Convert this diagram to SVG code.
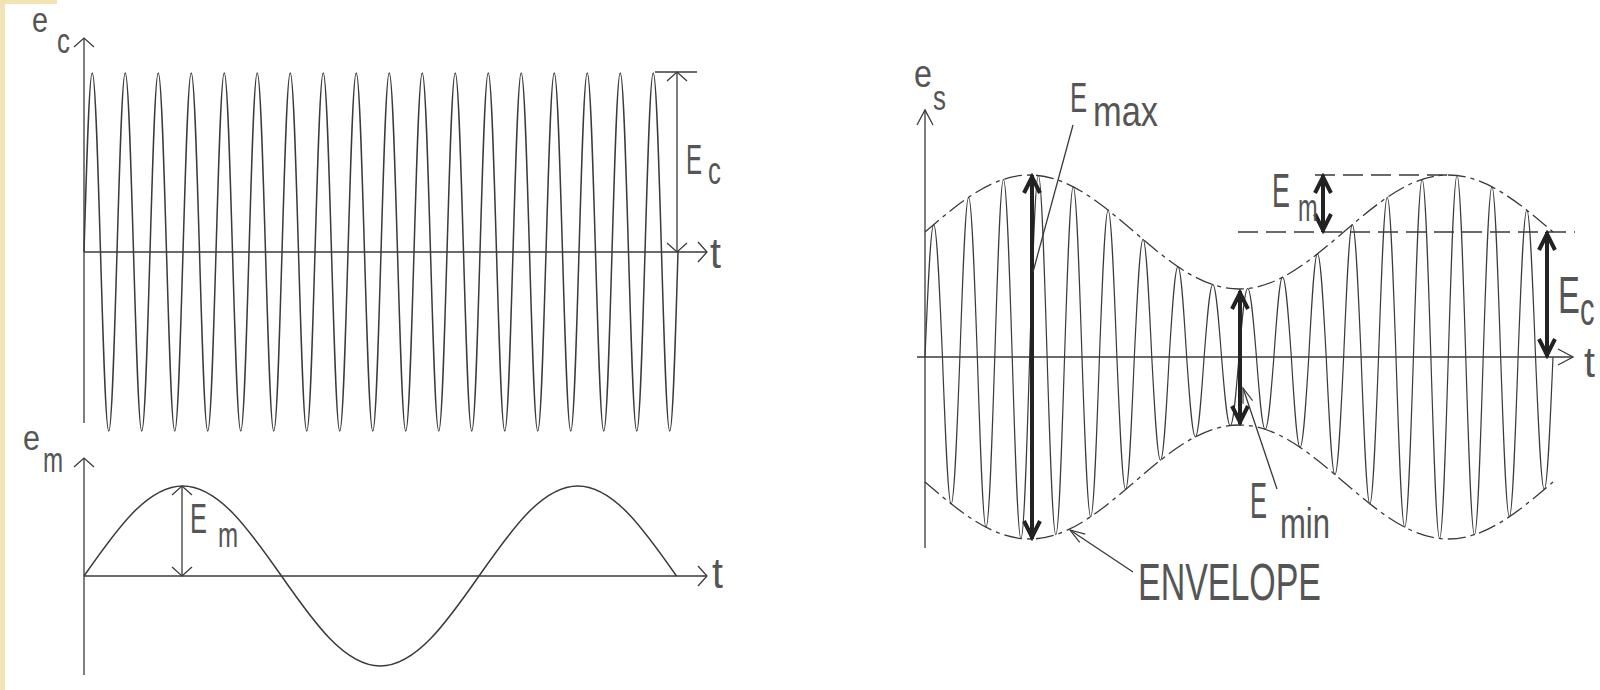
<svg xmlns="http://www.w3.org/2000/svg" width="1600" height="690" viewBox="0 0 1600 690">
<style>
.thin{fill:none;stroke:#3a3a3a;stroke-width:1.3}
.wave{fill:none;stroke:#3a3a3a;stroke-width:1.5;stroke-linejoin:round}
.wave2{fill:none;stroke:#3a3a3a;stroke-width:1.2;stroke-linejoin:round}
.env{fill:none;stroke:#3a3a3a;stroke-width:1.3;stroke-dasharray:18 5 4 5}
.dsh{fill:none;stroke:#3a3a3a;stroke-width:1.3;stroke-dasharray:20 8}
.thick{fill:none;stroke:#222;stroke-width:4}
.lbl{font-family:"Liberation Sans",Arial,sans-serif;fill:#555555}
</style>
<defs>
<marker id="opn" viewBox="-14 -14 16 28" markerWidth="16" markerHeight="28" refX="0" refY="0" orient="auto-start-reverse" markerUnits="userSpaceOnUse"><path d="M-9,-10 L0,0 L-9,10" fill="none" stroke="#3a3a3a" stroke-width="1.3"/></marker>
<marker id="opnL" viewBox="-18 -12 20 24" markerWidth="20" markerHeight="24" refX="0" refY="0" orient="auto-start-reverse" markerUnits="userSpaceOnUse"><path d="M-15,-8 L0,0 L-15,8" fill="none" stroke="#3a3a3a" stroke-width="1.3"/></marker>
<marker id="ldr" viewBox="-18 -8 20 16" markerWidth="20" markerHeight="16" refX="0" refY="0" orient="auto" markerUnits="userSpaceOnUse"><path d="M-15,-5 L0,0 L-15,5" fill="none" stroke="#3a3a3a" stroke-width="1.2"/></marker>
<marker id="thk" viewBox="-22 -12 24 24" markerWidth="24" markerHeight="24" refX="0" refY="0" orient="auto-start-reverse" markerUnits="userSpaceOnUse"><path d="M-18,-8 L-2,0 L-18,8" fill="none" stroke="#222" stroke-width="4"/></marker>
</defs>
<rect x="0" y="0" width="1600" height="690" fill="#ffffff"/>
<rect x="0" y="0" width="5" height="690" fill="#f1e2b8"/>
<rect x="0" y="0" width="57" height="4" fill="#f1e2b8"/>

<g id="carrier-plot">
<line class="thin" x1="84" y1="423" x2="84" y2="38" marker-end="url(#opn)"/>
<line class="thin" x1="84" y1="252" x2="707" y2="252" marker-end="url(#opn)"/>
<path class="wave" d="M84,252
c2.69,-91.7 5.264,-179 8.25,-179 c2.986,0 5.56,87.3 8.25,179 c2.69,91.7 5.264,179 8.25,179 c2.986,0 5.56,-87.3 8.25,-179 c2.69,-91.7 5.264,-179 8.25,-179 c2.986,0 5.56,87.3 8.25,179 c2.69,91.7 5.264,179 8.25,179 c2.986,0 5.56,-87.3 8.25,-179 c2.69,-91.7 5.264,-179 8.25,-179 c2.986,0 5.56,87.3 8.25,179 c2.69,91.7 5.264,179 8.25,179 c2.986,0 5.56,-87.3 8.25,-179
c2.69,-91.7 5.264,-179 8.25,-179 c2.986,0 5.56,87.3 8.25,179 c2.69,91.7 5.264,179 8.25,179 c2.986,0 5.56,-87.3 8.25,-179 c2.69,-91.7 5.264,-179 8.25,-179 c2.986,0 5.56,87.3 8.25,179 c2.69,91.7 5.264,179 8.25,179 c2.986,0 5.56,-87.3 8.25,-179 c2.69,-91.7 5.264,-179 8.25,-179 c2.986,0 5.56,87.3 8.25,179 c2.69,91.7 5.264,179 8.25,179 c2.986,0 5.56,-87.3 8.25,-179
c2.69,-91.7 5.264,-179 8.25,-179 c2.986,0 5.56,87.3 8.25,179 c2.69,91.7 5.264,179 8.25,179 c2.986,0 5.56,-87.3 8.25,-179 c2.69,-91.7 5.264,-179 8.25,-179 c2.986,0 5.56,87.3 8.25,179 c2.69,91.7 5.264,179 8.25,179 c2.986,0 5.56,-87.3 8.25,-179 c2.69,-91.7 5.264,-179 8.25,-179 c2.986,0 5.56,87.3 8.25,179 c2.69,91.7 5.264,179 8.25,179 c2.986,0 5.56,-87.3 8.25,-179
c2.69,-91.7 5.264,-179 8.25,-179 c2.986,0 5.56,87.3 8.25,179 c2.69,91.7 5.264,179 8.25,179 c2.986,0 5.56,-87.3 8.25,-179 c2.69,-91.7 5.264,-179 8.25,-179 c2.986,0 5.56,87.3 8.25,179 c2.69,91.7 5.264,179 8.25,179 c2.986,0 5.56,-87.3 8.25,-179 c2.69,-91.7 5.264,-179 8.25,-179 c2.986,0 5.56,87.3 8.25,179 c2.69,91.7 5.264,179 8.25,179 c2.986,0 5.56,-87.3 8.25,-179
c2.69,-91.7 5.264,-179 8.25,-179 c2.986,0 5.56,87.3 8.25,179 c2.69,91.7 5.264,179 8.25,179 c2.986,0 5.56,-87.3 8.25,-179 c2.69,-91.7 5.264,-179 8.25,-179 c2.986,0 5.56,87.3 8.25,179 c2.69,91.7 5.264,179 8.25,179 c2.986,0 5.56,-87.3 8.25,-179 c2.69,-91.7 5.264,-179 8.25,-179 c2.986,0 5.56,87.3 8.25,179 c2.69,91.7 5.264,179 8.25,179 c2.986,0 5.56,-87.3 8.25,-179
c2.69,-91.7 5.264,-179 8.25,-179 c2.986,0 5.56,87.3 8.25,179 c2.69,91.7 5.264,179 8.25,179 c2.986,0 5.56,-87.3 8.25,-179 c2.69,-91.7 5.264,-179 8.25,-179 c2.986,0 5.56,87.3 8.25,179 c2.69,91.7 5.264,179 8.25,179 c2.986,0 5.56,-87.3 8.25,-179 c2.69,-91.7 5.264,-179 8.25,-179 c2.986,0 5.56,87.3 8.25,179 c2.69,91.7 5.264,179 8.25,179 c2.986,0 5.56,-87.3 8.25,-179"/>
<line class="thin" x1="655" y1="72" x2="697" y2="72"/>
<line class="thin" x1="677" y1="72" x2="677" y2="252" marker-start="url(#opn)" marker-end="url(#opn)"/>
<text class="lbl" transform="translate(32,32) scale(0.8,1)" font-size="36">e</text>
<text class="lbl" transform="translate(57,53) scale(0.74,1)" font-size="35">c</text>
<text class="lbl" transform="translate(686,174) scale(0.56,1)" font-size="43">E</text>
<text class="lbl" transform="translate(708,184) scale(0.68,1)" font-size="38">c</text>
<text class="lbl" transform="translate(710,268) scale(0.94,1)" font-size="42">t</text>
</g>

<g id="modulating-plot">
<line class="thin" x1="84" y1="675" x2="84" y2="458" marker-end="url(#opn)"/>
<line class="thin" x1="84" y1="576" x2="707" y2="576" marker-end="url(#opn)"/>
<path class="wave" d="M84,576 c32.2,-46.11 63.01,-90 98.75,-90 c35.74,0 66.55,43.89 98.75,90 c32.2,46.11 63.01,90 98.75,90 c35.74,0 66.55,-43.89 98.75,-90 c32.2,-46.11 63.01,-90 98.75,-90 c35.74,0 66.55,43.89 98.75,90"/>
<line class="thin" x1="182" y1="486" x2="182" y2="576" marker-start="url(#opn)" marker-end="url(#opn)"/>
<text class="lbl" transform="translate(23,450) scale(0.87,1)" font-size="35">e</text>
<text class="lbl" transform="translate(43,472) scale(0.67,1)" font-size="36">m</text>
<text class="lbl" transform="translate(190,533) scale(0.59,1)" font-size="43">E</text>
<text class="lbl" transform="translate(218,547) scale(0.67,1)" font-size="36">m</text>
<text class="lbl" transform="translate(712,588) scale(0.94,1)" font-size="42">t</text>
</g>

<g id="am-plot">
<line class="thin" x1="925" y1="548" x2="925" y2="110" marker-end="url(#opnL)"/>
<line class="thin" x1="917" y1="357" x2="1573" y2="357" marker-end="url(#opnL)"/>
<path class="wave2" d="M925,357 c2.844,-67.83 5.566,-132.4 8.722,-132.4 c3.157,0 5.878,64.57 8.722,132.4 c2.844,75.21 5.566,146.8 8.722,146.8 c3.157,0 5.878,-71.59 8.722,-146.8 c2.844,-81.81 5.566,-159.7 8.722,-159.7 c3.157,0 5.878,77.89 8.722,159.7 c2.844,87.19 5.566,170.2 8.722,170.2 c3.157,0 5.878,-83.01 8.722,-170.2 c2.844,-91.03 5.566,-177.7 8.722,-177.7 c3.157,0 5.878,86.66 8.722,177.7 c2.844,92.98 5.566,181.5 8.722,181.5 c3.157,0 5.878,-88.52 8.722,-181.5 c2.844,-92.98 5.566,-181.5 8.722,-181.5 c3.157,0 5.878,88.52 8.722,181.5 c2.844,91.03 5.566,177.7 8.722,177.7 c3.157,0 5.878,-86.66 8.722,-177.7 c2.844,-87.19 5.566,-170.2 8.722,-170.2 c3.157,0 5.878,83.01 8.722,170.2 c2.844,81.81 5.566,159.7 8.722,159.7 c3.157,0 5.878,-77.89 8.722,-159.7 c2.844,-75.21 5.566,-146.8 8.722,-146.8 c3.157,0 5.878,71.59 8.722,146.8 c2.844,67.83 5.566,132.4 8.722,132.4 c3.157,0 5.878,-64.57 8.722,-132.4 c2.844,-60.25 5.566,-117.6 8.722,-117.6 c3.157,0 5.878,57.35 8.722,117.6 c2.844,52.87 5.566,103.2 8.722,103.2 c3.157,0 5.878,-50.33 8.722,-103.2 c2.844,-46.26 5.566,-90.3 8.722,-90.3 c3.157,0 5.878,44.04 8.722,90.3 c2.844,40.88 5.566,79.8 8.722,79.8 c3.157,0 5.878,-38.92 8.722,-79.8 c2.844,-37.04 5.566,-72.3 8.722,-72.3 c3.157,0 5.878,35.26 8.722,72.3 c2.844,35.09 5.566,68.5 8.722,68.5 c3.157,0 5.878,-33.41 8.722,-68.5 c2.844,-35.09 5.566,-68.5 8.722,-68.5 c3.157,0 5.878,33.41 8.722,68.5 c2.844,37.04 5.566,72.3 8.722,72.3 c3.157,0 5.878,-35.26 8.722,-72.3 c2.844,-40.88 5.566,-79.8 8.722,-79.8 c3.157,0 5.878,38.92 8.722,79.8 c2.844,46.26 5.566,90.3 8.722,90.3 c3.157,0 5.878,-44.04 8.722,-90.3 c2.844,-52.87 5.566,-103.2 8.722,-103.2 c3.157,0 5.878,50.33 8.722,103.2 c2.844,60.25 5.566,117.6 8.722,117.6 c3.157,0 5.878,-57.35 8.722,-117.6 c2.844,-67.83 5.566,-132.4 8.722,-132.4 c3.157,0 5.878,64.57 8.722,132.4 c2.844,75.21 5.566,146.8 8.722,146.8 c3.157,0 5.878,-71.59 8.722,-146.8 c2.844,-81.81 5.566,-159.7 8.722,-159.7 c3.157,0 5.878,77.89 8.722,159.7 c2.844,87.19 5.566,170.2 8.722,170.2 c3.157,0 5.878,-83.01 8.722,-170.2 c2.844,-91.03 5.566,-177.7 8.722,-177.7 c3.157,0 5.878,86.66 8.722,177.7 c2.844,92.98 5.566,181.5 8.722,181.5 c3.157,0 5.878,-88.52 8.722,-181.5 c2.844,-92.98 5.566,-181.5 8.722,-181.5 c3.157,0 5.878,88.52 8.722,181.5 c2.844,91.03 5.566,177.7 8.722,177.7 c3.157,0 5.878,-86.66 8.722,-177.7 c2.844,-87.19 5.566,-170.2 8.722,-170.2 c3.157,0 5.878,83.01 8.722,170.2 c2.844,81.81 5.566,159.7 8.722,159.7 c3.157,0 5.878,-77.89 8.722,-159.7 c2.844,-75.21 5.566,-146.8 8.722,-146.8 c3.157,0 5.878,71.59 8.722,146.8 c2.844,67.83 5.566,132.4 8.722,132.4 c3.157,0 5.878,-64.57 8.722,-132.4"/>
<g id="envelope">
<path class="env" d="M925,232 c34.13,-29.2 66.79,-57 104.67,-57 c37.88,0 70.54,27.8 104.67,57 c34.13,29.2 66.79,57 104.67,57 c37.88,0 70.54,-27.8 104.67,-57 c34.13,-29.2 66.79,-57 104.67,-57 c37.88,0 70.54,27.8 104.67,57"/>
<path class="env" d="M925,482 c34.13,29.2 66.79,57 104.67,57 c37.88,0 70.54,-27.8 104.67,-57 c34.13,-29.2 66.79,-57 104.67,-57 c37.88,0 70.54,27.8 104.67,57 c34.13,29.2 66.79,57 104.67,57 c37.88,0 70.54,-27.8 104.67,-57"/>
</g>
<line class="dsh" x1="1315" y1="175" x2="1450" y2="175"/>
<line class="dsh" x1="1238" y1="232" x2="1575" y2="232"/>
<text class="lbl" transform="translate(914,87) scale(0.85,1)" font-size="38">e</text>
<text class="lbl" transform="translate(933,110) scale(0.74,1)" font-size="35">s</text>
<text class="lbl" transform="translate(1584,377) scale(0.94,1)" font-size="42">t</text>
</g>

<g id="connectors">
<line class="thick" x1="1032" y1="175" x2="1032" y2="539" marker-start="url(#thk)" marker-end="url(#thk)"/>
<line class="thick" x1="1240" y1="291" x2="1240" y2="424" marker-start="url(#thk)" marker-end="url(#thk)"/>
<line class="thick" x1="1323" y1="175" x2="1323" y2="232" marker-start="url(#thk)" marker-end="url(#thk)"/>
<line class="thick" x1="1547" y1="232" x2="1547" y2="357" marker-start="url(#thk)" marker-end="url(#thk)"/>
<line class="thin" x1="1073" y1="125" x2="1033" y2="272"/>
<line class="thin" x1="1277" y1="489" x2="1243" y2="388" marker-end="url(#ldr)"/>
<line class="thin" x1="1133" y1="572" x2="1070" y2="530" marker-end="url(#ldr)"/>
</g>

<g id="label-emax">
<text class="lbl" transform="translate(1070,112) scale(0.61,1)" font-size="42">E</text>
<text class="lbl" x="1093" y="126" font-size="42" textLength="65" lengthAdjust="spacingAndGlyphs">max</text>
</g>
<g id="label-em-right">
<text class="lbl" transform="translate(1272,207) scale(0.56,1)" font-size="48">E</text>
<text class="lbl" transform="translate(1298,221) scale(0.62,1)" font-size="38">m</text>
</g>
<g id="label-ec-right">
<text class="lbl" transform="translate(1558,313) scale(0.63,1)" font-size="52">E</text>
<text class="lbl" transform="translate(1580,325) scale(0.63,1)" font-size="46">c</text>
</g>
<g id="label-emin">
<text class="lbl" transform="translate(1250,518) scale(0.51,1)" font-size="50">E</text>
<text class="lbl" x="1280" y="538" font-size="42" textLength="50" lengthAdjust="spacingAndGlyphs">min</text>
</g>
<g id="label-envelope">
<text class="lbl" x="1138" y="600" font-size="51" textLength="183" lengthAdjust="spacingAndGlyphs">ENVELOPE</text>
</g>
</svg>
